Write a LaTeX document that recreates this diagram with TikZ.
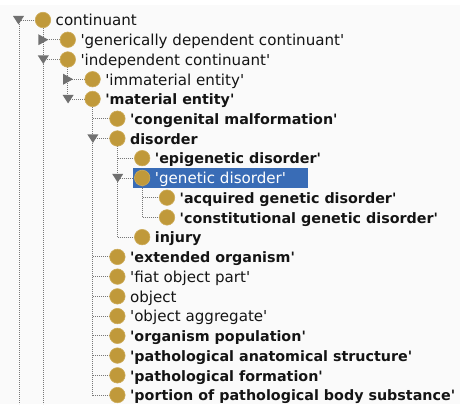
\documentclass[tikz,border=0pt]{standalone}
\usepackage{fontspec}
\setmainfont{DejaVu Sans}[Ligatures=TeXOff]
\definecolor{gold}{RGB}{192,153,58}
\definecolor{goldrim}{RGB}{205,172,90}
\definecolor{tri}{RGB}{112,112,112}
\definecolor{dots}{RGB}{120,120,120}
\definecolor{selblue}{RGB}{57,108,182}
\definecolor{bg}{RGB}{250,250,250}
\definecolor{txt}{RGB}{20,20,20}
\begin{document}
\begin{tikzpicture}[x=1pt,y=-1pt,
  dotline/.style={draw=dots,line width=0.8pt,dash pattern=on 0.8pt off 1.2pt},
  ball/.style={circle,fill=gold,draw=goldrim,line width=0.6pt,minimum size=15.5pt,inner sep=0pt},
  lbl/.style={anchor=base west,inner sep=0pt,text=txt,font=\fontsize{15.1}{16}\selectfont},
  blbl/.style={lbl,font=\fontsize{14.3}{16}\selectfont\bfseries},
  sel/.style={fill=selblue}]
\useasboundingbox (0,0) rectangle (465,404);
\fill[white] (0,0) rectangle (465,404);
\fill[bg] (0,5) rectangle (460,404);
% row positions
\def\R#1{20+(#1-1)*19.74}
% selection box
\path[sel] (133,168) rectangle (308,188);
% vertical lines
\draw[dotline] (19,{\R{1}}) -- (19,404);
\draw[dotline] (43,{\R{1}}) -- (43,404);
\draw[dotline] (67,{\R{3}}) -- (67,{\R{5}});
\draw[dotline] (92,{\R{5}}) -- (92,{\R{20}});
\draw[dotline] (117,{\R{7}}) -- (117,{\R{12}});
\draw[dotline] (142,{\R{9}}) -- (142,{\R{11}});
% nodes: level x positions 43,67,92,117,142,167
\foreach \lv/\row/\style/\txt/\nm in {
  0/1/lbl/continuant/n1,
  1/2/lbl/'generically dependent continuant'/n2,
  1/3/lbl/'independent continuant'/n3,
  2/4/lbl/'immaterial entity'/n4,
  2/5/blbl/'material entity'/n5,
  3/6/blbl/'congenital malformation'/n6,
  3/7/blbl/disorder/n7,
  4/8/blbl/'epigenetic disorder'/n8,
  5/10/blbl/'acquired genetic disorder'/n10,
  5/11/blbl/'constitutional genetic disorder'/n11,
  4/12/blbl/injury/n12,
  3/13/blbl/'extended organism'/n13,
  3/14/lbl/'fiat object part'/n14,
  3/15/lbl/object/n15,
  3/16/lbl/'object aggregate'/n16,
  3/17/blbl/'organism population'/n17,
  3/18/blbl/'pathological anatomical structure'/n18,
  3/19/blbl/'pathological formation'/n19,
  3/20/blbl/'portion of pathological body substance'/n20}{
  \pgfmathsetmacro\cx{43+\lv*24.8}
  \pgfmathsetmacro\cy{20+(\row-1)*19.74}
  \draw[dotline] (\cx-24.5,\cy) -- (\cx-7,\cy);
  \node[ball] (\nm) at (\cx,\cy) {};
  \node[\style] (\nm t) at (\cx+12.5,\cy+5.8) {\txt};
}
% selected node
\pgfmathsetmacro\cx{43+4*24.8}
\pgfmathsetmacro\cy{20+8*19.74}
\draw[dotline] (\cx-24.5,\cy) -- (\cx-7,\cy);
\node[ball] (n9) at (\cx,\cy) {};
\node[lbl,text=white] (n9t) at (\cx+12.5,\cy+5.8) {'genetic disorder'};
% expanded triangles (down)
\foreach \lv/\row in {0/1,1/3,2/5,3/7,4/9}{
  \pgfmathsetmacro\tx{43+\lv*24.8-24.5}
  \pgfmathsetmacro\ty{20+(\row-1)*19.74}
  \fill[tri] (\tx-5.5,\ty-4) -- (\tx+5.5,\ty-4) -- (\tx,\ty+4.5) -- cycle;
}
% collapsed triangles (right)
\foreach \lv/\row in {1/2,2/4}{
  \pgfmathsetmacro\tx{43+\lv*24.8-24.5}
  \pgfmathsetmacro\ty{20+(\row-1)*19.74}
  \fill[tri] (\tx-5,\ty-5.5) -- (\tx+5,\ty) -- (\tx-5,\ty+5.5) -- cycle;
}
\end{tikzpicture}
\end{document}
